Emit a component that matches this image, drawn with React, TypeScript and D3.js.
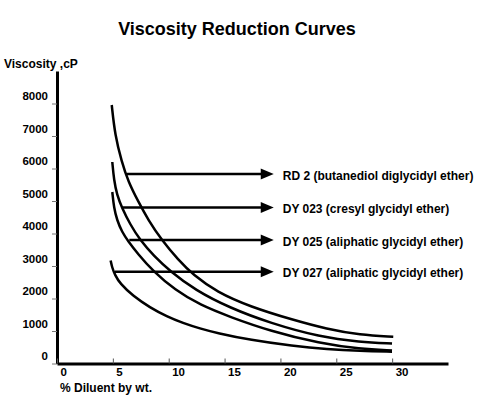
import * as d3 from "d3";
import { useEffect, useRef } from "react";

// readings taken from the printed curves (x = % diluent, y = cP)
const seriesNames = [
  "RD 2 (butanediol diglycidyl ether)",
  "DY 023 (cresyl glycidyl ether)",
  "DY 025 (aliphatic glycidyl ether)",
  "DY 027 (aliphatic glycidyl ether)",
];

const rd2X = [4.9, 5.19, 5.79, 6.38, 7.28, 8.17, 9.37, 10.86, 12.2, 14.3, 17.28, 21.16, 24.14, 27.12, 30.1];
const rd2Y = [7954, 7031, 6209, 5594, 4978, 4415, 3800, 3185, 2723, 2200, 1748, 1338, 1062, 877, 825];

const dy023X = [4.95, 5.1, 5.37, 5.82, 6.53, 7.43, 8.68, 10.11, 12.35, 15.49, 19.07, 23.54, 27.12, 29.99];
const dy023Y = [6200, 5646, 5185, 4785, 4292, 3800, 3308, 2846, 2262, 1708, 1246, 815, 662, 615];

const dy025X = [4.95, 5.1, 5.37, 5.82, 6.36, 7.25, 8.59, 10.56, 12.8, 15.49, 19.07, 23.54, 27.12, 29.99];
const dy025Y = [5277, 4785, 4415, 4046, 3769, 3369, 2846, 2262, 1800, 1431, 1000, 615, 446, 400];

const dy027X = [4.8, 4.92, 5.19, 5.64, 6.8, 8.32, 9.84, 11.27, 12.8, 14.32, 17.28, 21.12, 24.17, 27.12, 29.99];
const dy027Y = [3169, 2969, 2723, 2462, 2080, 1723, 1446, 1246, 1077, 938, 723, 538, 437, 385, 363];

// arrow annotations: start on the curve, end pointing at the label
const arrowStartX = [6.24, 5.88, 6.47, 5.19];
const arrowValue = [5830, 4800, 3800, 2825];
const arrowEndX = 19.4;

const yTicks = [0, 1000, 2000, 3000, 4000, 5000, 6000, 7000, 8000];
const xTicks = [0, 5, 10, 15, 20, 25, 30];

const font = "'Liberation Sans', Arial, Helvetica, sans-serif";

export default function App() {
  const ref = useRef<SVGSVGElement | null>(null);

  useEffect(() => {
    if (!ref.current) return;
    const svg = d3.select(ref.current);
    svg.selectAll("*").remove();

    const x = d3.scaleLinear().domain([0, 35]).range([57, 448]);
    const y = d3.scaleLinear().domain([0, 9000]).range([363.5, 71]);

    svg
      .append("text")
      .attr("x", 237)
      .attr("y", 35)
      .attr("text-anchor", "middle")
      .attr("font-size", 18)
      .attr("font-weight", "bold")
      .text("Viscosity Reduction Curves");

    svg
      .append("text")
      .attr("x", 4)
      .attr("y", 67.5)
      .attr("font-size", 12)
      .attr("font-weight", "bold")
      .text("Viscosity ,cP");

    // y axis
    const yAxis = svg
      .append("g")
      .attr("transform", `translate(${x(0)},0)`)
      .call(d3.axisLeft(y).tickValues(yTicks).tickSize(5).tickSizeOuter(0).tickFormat(d3.format("d")));
    yAxis.select(".domain").attr("stroke", "#000").attr("stroke-width", 3);
    yAxis.selectAll(".tick line").attr("stroke", "#777").attr("stroke-width", 1);
    yAxis
      .selectAll(".tick text")
      .attr("x", -9)
      .attr("dy", null)
      .attr("y", -4)
      .attr("font-size", 11.5)
      .attr("font-weight", "bold")
      .attr("font-family", font)
      .attr("fill", "#000");

    // x axis
    const xAxis = svg
      .append("g")
      .attr("transform", `translate(0,${y(0)})`)
      .call(d3.axisBottom(x).tickValues(xTicks).tickSizeInner(-5).tickSizeOuter(0).tickFormat(d3.format("d")));
    xAxis.select(".domain").attr("stroke", "#000").attr("stroke-width", 2.8);
    xAxis.selectAll(".tick line").attr("stroke", "#555").attr("stroke-width", 1);
    xAxis
      .selectAll(".tick text")
      .attr("text-anchor", "start")
      .attr("x", 3)
      .attr("y", 12.5)
      .attr("dy", null)
      .attr("font-size", 11.5)
      .attr("font-weight", "bold")
      .attr("font-family", font)
      .attr("fill", "#000");

    svg
      .append("text")
      .attr("x", 60)
      .attr("y", 391.5)
      .attr("font-size", 12)
      .attr("font-weight", "bold")
      .text("% Diluent by wt.");

    // curves
    const series = [
      d3.zip(rd2X, rd2Y),
      d3.zip(dy023X, dy023Y),
      d3.zip(dy025X, dy025Y),
      d3.zip(dy027X, dy027Y),
    ];
    const line = d3
      .line<number[]>()
      .x((d) => x(d[0]))
      .y((d) => y(d[1]))
      .curve(d3.curveBasis);

    svg
      .append("g")
      .selectAll("path")
      .data(series)
      .join("path")
      .attr("fill", "none")
      .attr("stroke", "#000")
      .attr("stroke-width", 2.5)
      .attr("d", (d) => line(d));

    // arrows + labels
    const head = 13;
    const ann = svg.append("g");
    seriesNames.forEach((name, i) => {
      const ay = y(arrowValue[i]);
      const x0 = x(arrowStartX[i]);
      const x1 = x(arrowEndX);
      ann
        .append("line")
        .attr("x1", x0)
        .attr("x2", x1 - head + 1)
        .attr("y1", ay)
        .attr("y2", ay)
        .attr("stroke", "#000")
        .attr("stroke-width", 2.5);
      ann
        .append("path")
        .attr("d", `M${x1},${ay}L${x1 - head},${ay - 5.5}L${x1 - head},${ay + 5.5}Z`)
        .attr("fill", "#000");
      ann
        .append("text")
        .attr("x", x1 + 9)
        .attr("y", ay + 5.5)
        .attr("font-size", 12)
        .attr("font-weight", "bold")
        .text(name);
    });
  }, []);

  return (
    <svg
      ref={ref}
      width={487}
      height={397}
      style={{ position: "absolute", left: 0, top: 0, background: "#fff", fontFamily: font }}
    />
  );
}
